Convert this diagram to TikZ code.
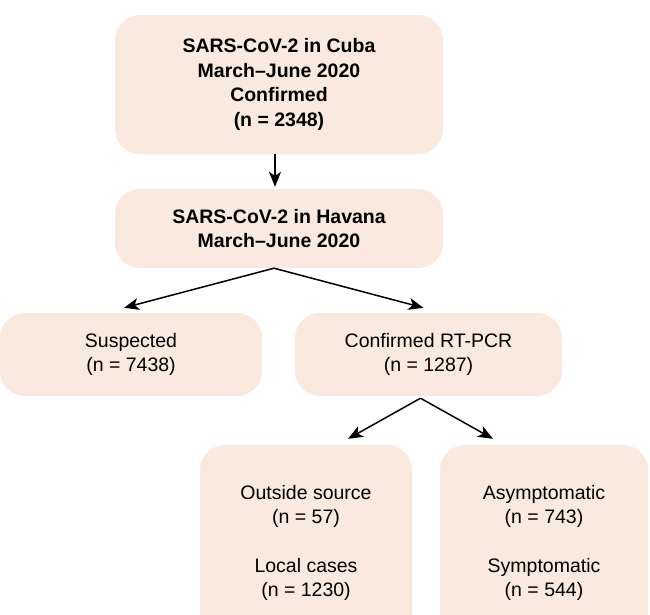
\documentclass[tikz,border=0pt]{standalone}
\usepackage{fontspec}
\setmainfont{Liberation Sans}
\usetikzlibrary{arrows.meta}
\definecolor{boxfill}{RGB}{249,233,222}
\tikzset{
  flowbox/.style={fill=boxfill, draw=none, rounded corners=25pt, align=center,
    inner sep=0pt, font=\fontsize{19.5}{24.5}\selectfont},
  flowarrow/.style={draw=black, line width=1.5pt, -{Stealth[length=15pt,width=12pt,inset=4pt]}}
}
\begin{document}
\begin{tikzpicture}[x=1pt,y=-1pt]
\useasboundingbox (0,0) rectangle (650,614);
\clip (0,0) rectangle (650,614);
\node[flowbox, minimum width=328pt, minimum height=139pt] (top) at (279,84.5)
  {\bfseries SARS-CoV-2 in Cuba\\\bfseries March–June 2020\\\bfseries Confirmed\\\bfseries (n = 2348)};
\node[flowbox, minimum width=328pt, minimum height=79pt] (hav) at (279,228.5)
  {\bfseries SARS-CoV-2 in Havana\\\bfseries March–June 2020};
\node[flowbox, minimum width=262pt, minimum height=83pt] (susp) at (131,354.5)
  {Suspected\\(n = 7438)};
\node[flowbox, minimum width=267pt, minimum height=83pt] (conf) at (428.5,354.5)
  {Confirmed RT-PCR\\(n = 1287)};
\node[flowbox, minimum width=212pt, minimum height=196pt] (outs) at (306,543)
  {Outside source\\(n = 57)\\[24pt]Local cases\\(n = 1230)};
\node[flowbox, minimum width=208pt, minimum height=196pt] (asym) at (544,543)
  {Asymptomatic\\(n = 743)\\[24pt]Symptomatic\\(n = 544)};
\draw[flowarrow] ([xshift=-4pt,yshift=0pt]top.south) -- ([xshift=-4pt,yshift=2pt]hav.north);
\draw[flowarrow] ([xshift=-5pt,yshift=0pt]hav.south) -- ([xshift=-7pt,yshift=5pt]susp.north);
\draw[flowarrow] ([xshift=-5pt,yshift=0pt]hav.south) -- ([xshift=-5pt,yshift=5pt]conf.north);
\draw[flowarrow] ([xshift=-8pt,yshift=-2pt]conf.south) -- ([xshift=42pt,yshift=6pt]outs.north);
\draw[flowarrow] ([xshift=-8pt,yshift=-2pt]conf.south) -- ([xshift=-51pt,yshift=6pt]asym.north);
\end{tikzpicture}
\end{document}
